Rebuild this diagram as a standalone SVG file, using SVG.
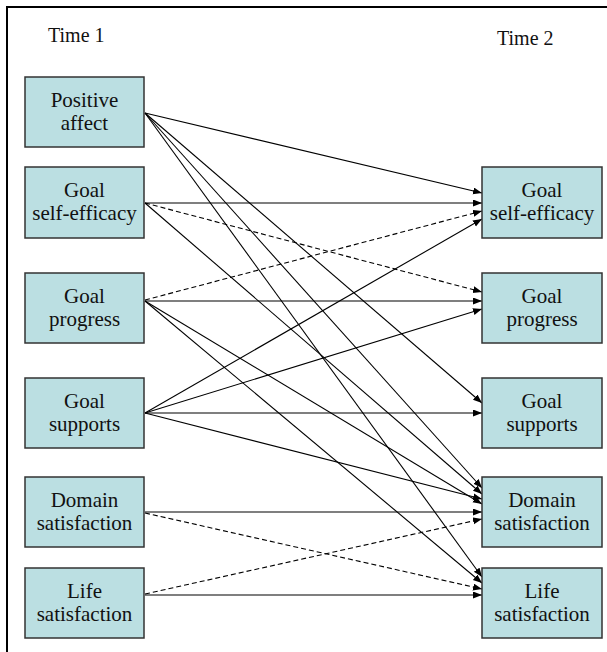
<svg xmlns="http://www.w3.org/2000/svg" width="607" height="652" viewBox="0 0 607 652">
<style>
.box{fill:#bbdfe2;stroke:#333;stroke-width:1.5}
text{font-family:"Liberation Serif","Times New Roman",serif;fill:#111}
.lbl{font-size:21px;text-anchor:middle}
.time{font-size:20px}
.c{stroke:#000;stroke-width:1.1;fill:none;marker-end:url(#ah)}
.d{stroke-dasharray:5 3}
</style>
<defs>
<marker id="ah" markerUnits="userSpaceOnUse" markerWidth="10" markerHeight="8" refX="9" refY="3.5" orient="auto">
<path d="M0,0 L9,3.5 L0,7 z" fill="#000"/>
</marker>
</defs>
<rect width="607" height="652" fill="#fff"/>
<path d="M7,653 V7 H608" fill="none" stroke="#000" stroke-width="2"/>
<text class="time" x="48" y="42" font-family="Liberation Serif, serif">Time 1</text>
<text class="time" x="497" y="45" font-family="Liberation Serif, serif">Time 2</text>
<g id="connectors">
<line class="c" x1="145" y1="113" x2="482" y2="193"/>
<line class="c" x1="145" y1="113" x2="482" y2="403"/>
<line class="c" x1="145" y1="113" x2="482" y2="488"/>
<line class="c" x1="145" y1="113" x2="482" y2="577"/>
<line class="c" x1="145" y1="203" x2="482" y2="203"/>
<line class="c d" x1="145" y1="203" x2="482" y2="292"/>
<line class="c" x1="145" y1="203" x2="482" y2="494"/>
<line class="c d" x1="145" y1="300" x2="482" y2="211"/>
<line class="c" x1="145" y1="301" x2="482" y2="301"/>
<line class="c" x1="145" y1="301" x2="482" y2="504"/>
<line class="c" x1="145" y1="301" x2="482" y2="583"/>
<line class="c" x1="145" y1="413" x2="482" y2="219"/>
<line class="c" x1="145" y1="413" x2="482" y2="309"/>
<line class="c" x1="145" y1="413" x2="482" y2="413"/>
<line class="c" x1="145" y1="413" x2="482" y2="499"/>
<line class="c" x1="145" y1="512" x2="482" y2="512"/>
<line class="c d" x1="145" y1="513" x2="482" y2="589"/>
<line class="c d" x1="145" y1="594" x2="482" y2="519"/>
<line class="c" x1="145" y1="595" x2="482" y2="595"/>
</g>
<g id="t1-positive-affect" font-family="Liberation Serif, serif"><rect class="box" x="25" y="77" width="119" height="70"/><text class="lbl" x="84.5" y="107">Positive</text><text class="lbl" x="84.5" y="130">affect</text></g>
<g id="t1-goal-self-efficacy" font-family="Liberation Serif, serif"><rect class="box" x="25" y="167" width="119" height="71"/><text class="lbl" x="84.5" y="197">Goal</text><text class="lbl" x="84.5" y="220">self-efficacy</text></g>
<g id="t1-goal-progress" font-family="Liberation Serif, serif"><rect class="box" x="25" y="273" width="119" height="70"/><text class="lbl" x="84.5" y="303">Goal</text><text class="lbl" x="84.5" y="326">progress</text></g>
<g id="t1-goal-supports" font-family="Liberation Serif, serif"><rect class="box" x="25" y="378" width="119" height="70"/><text class="lbl" x="84.5" y="408">Goal</text><text class="lbl" x="84.5" y="431">supports</text></g>
<g id="t1-domain-satisfaction" font-family="Liberation Serif, serif"><rect class="box" x="25" y="477" width="119" height="70"/><text class="lbl" x="84.5" y="507">Domain</text><text class="lbl" x="84.5" y="530">satisfaction</text></g>
<g id="t1-life-satisfaction" font-family="Liberation Serif, serif"><rect class="box" x="25" y="568" width="119" height="70"/><text class="lbl" x="84.5" y="598">Life</text><text class="lbl" x="84.5" y="621">satisfaction</text></g>
<g id="t2-goal-self-efficacy" font-family="Liberation Serif, serif"><rect class="box" x="482" y="167" width="120" height="71"/><text class="lbl" x="542" y="197">Goal</text><text class="lbl" x="542" y="220">self-efficacy</text></g>
<g id="t2-goal-progress" font-family="Liberation Serif, serif"><rect class="box" x="482" y="273" width="120" height="70"/><text class="lbl" x="542" y="303">Goal</text><text class="lbl" x="542" y="326">progress</text></g>
<g id="t2-goal-supports" font-family="Liberation Serif, serif"><rect class="box" x="482" y="378" width="120" height="70"/><text class="lbl" x="542" y="408">Goal</text><text class="lbl" x="542" y="431">supports</text></g>
<g id="t2-domain-satisfaction" font-family="Liberation Serif, serif"><rect class="box" x="482" y="477" width="120" height="70"/><text class="lbl" x="542" y="507">Domain</text><text class="lbl" x="542" y="530">satisfaction</text></g>
<g id="t2-life-satisfaction" font-family="Liberation Serif, serif"><rect class="box" x="482" y="568" width="120" height="70"/><text class="lbl" x="542" y="598">Life</text><text class="lbl" x="542" y="621">satisfaction</text></g>
</svg>
